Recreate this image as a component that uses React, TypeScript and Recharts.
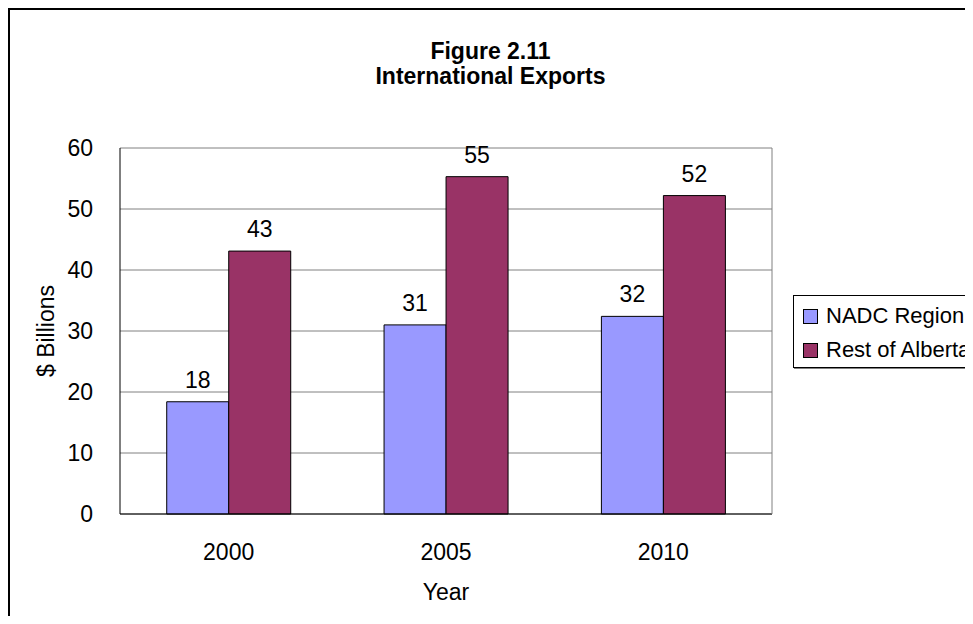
import { BarChart, Bar, XAxis, YAxis, CartesianGrid, LabelList, Legend, Label } from 'recharts'

const years = ['2000', '2005', '2010']
const nadcRegion = [18.4, 31.0, 32.4]
const restOfAlberta = [43.1, 55.3, 52.2]
const yTicks = [0, 10, 20, 30, 40, 50, 60]
const categoryEdges = [1, 2]

const series = [
  { key: 'nadc', name: 'NADC Region', color: '#9999FF' },
  { key: 'rest', name: 'Rest of Alberta', color: '#993366' },
]

const FONT = '"Liberation Sans", Arial, sans-serif'
const FS = 23

const data = years.map((year, i) => ({ year, nadc: nadcRegion[i], rest: restOfAlberta[i] }))

function LegendBox() {
  return (
    <div
      style={{
        width: 200,
        height: 73,
        boxSizing: 'border-box',
        border: '1px solid #000',
        boxShadow: '1px 1px 0 #808080',
        background: '#fff',
        padding: '3px 0 0 9px',
        fontFamily: FONT,
      }}
    >
      {series.map(s => (
        <div key={s.key} style={{ display: 'flex', alignItems: 'center', height: 34 }}>
          <span
            style={{
              width: 15,
              height: 15,
              boxSizing: 'border-box',
              border: '1px solid #000',
              background: s.color,
              marginRight: 8,
              flex: 'none',
            }}
          />
          <span style={{ fontSize: 22, lineHeight: '34px', whiteSpace: 'nowrap', color: '#000' }}>{s.name}</span>
        </div>
      ))}
    </div>
  )
}

export default function App() {
  return (
    <div style={{ position: 'relative', width: 957, height: 608, fontFamily: FONT }}>
      <div style={{ position: 'absolute', left: 0, top: 0, width: 965, height: 616, overflow: 'hidden', background: '#fff' }}>
        <BarChart
          width={965}
          height={616}
          data={data}
          margin={{ top: 140, right: 201, bottom: 50, left: 0 }}
          barCategoryGap="21.5%"
          barGap={0}
        >
          <CartesianGrid vertical={false} stroke="#808080" />
          {/* small ticks at the category edges, pointing into the plot */}
          <XAxis
            xAxisId="edges"
            type="number"
            domain={[0, 3]}
            ticks={categoryEdges}
            allowDataOverflow
            mirror
            height={1}
            tick={false}
            axisLine={false}
            tickSize={8}
            tickLine={{ stroke: '#000' }}
          />
          <XAxis
            dataKey="year"
            height={60}
            axisLine={{ stroke: '#000' }}
            tickLine={false}
            tickMargin={24}
            tick={{ fontSize: FS, fill: '#000' }}
          >
            <Label
              content={(props: any) => {
                const vb = props.viewBox
                return (
                  <text x={vb.x + vb.width / 2} y={vb.y + 78} textAnchor="middle" dominantBaseline="central" fontSize={FS} fill="#000">
                    Year
                  </text>
                )
              }}
            />
          </XAxis>
          <YAxis
            yAxisId="inner"
            mirror
            width={1}
            domain={[0, 60]}
            ticks={yTicks}
            allowDataOverflow
            tick={false}
            axisLine={false}
            tickSize={8}
            tickLine={{ stroke: '#000' }}
          />
          <YAxis
            width={112}
            domain={[0, 60]}
            ticks={yTicks}
            axisLine={{ stroke: '#000' }}
            tickLine={false}
            tickMargin={21}
            tick={{ fontSize: FS, fill: '#000' }}
          >
            <Label
              content={(props: any) => {
                const vb = props.viewBox
                const cx = vb.x + 38
                const cy = vb.y + vb.height / 2
                return (
                  <text
                    x={cx}
                    y={cy}
                    transform={`rotate(-90 ${cx} ${cy})`}
                    textAnchor="middle"
                    dominantBaseline="central"
                    fontSize={FS}
                    fill="#000"
                  >
                    $ Billions
                  </text>
                )
              }}
            />
          </YAxis>
          {/* grey right edge of the plot */}
          <YAxis
            yAxisId="right"
            orientation="right"
            mirror
            width={1}
            domain={[0, 60]}
            allowDataOverflow
            tick={false}
            tickLine={false}
            axisLine={{ stroke: '#808080' }}
          />
          <Legend content={<LegendBox />} wrapperStyle={{ position: 'absolute', left: 785, top: 287, width: 0, height: 0 }} />
          {series.map(s => (
            <Bar key={s.key} dataKey={s.key} name={s.name} fill={s.color} stroke="#000" strokeWidth={1} isAnimationActive={false}>
              <LabelList
                dataKey={s.key}
                position="top"
                offset={14}
                fontSize={FS}
                fill="#000"
                formatter={(v: any) => Math.round(Number(v))}
              />
            </Bar>
          ))}
        </BarChart>
        <div
          style={{
            position: 'absolute',
            left: 0,
            top: 31,
            width: 965,
            textAlign: 'center',
            fontWeight: 'bold',
            fontSize: FS,
            lineHeight: '25px',
            color: '#000',
          }}
        >
          <div>Figure 2.11</div>
          <div>International Exports</div>
        </div>
        <div
          style={{
            position: 'absolute',
            left: 0,
            top: 0,
            width: 965,
            height: 616,
            boxSizing: 'border-box',
            borderTop: '2px solid #000',
            borderLeft: '2px solid #000',
            pointerEvents: 'none',
          }}
        />
      </div>
    </div>
  )
}
